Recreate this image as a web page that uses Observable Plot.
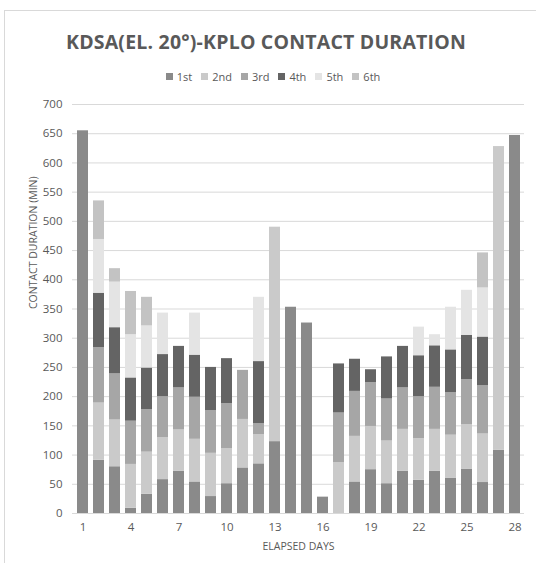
<!DOCTYPE html>
<html>
<head>
<meta charset="utf-8">
<script src="https://cdn.jsdelivr.net/npm/d3@7"></script>
<script src="https://cdn.jsdelivr.net/npm/@observablehq/plot@0.6"></script>
<style>
  html, body { margin: 0; padding: 0; background: #fff; overflow: hidden; }
  body { width: 536px; height: 563px; position: relative; font-family: "Open Sans", sans-serif; color: #595959; }
  #frame { position: absolute; left: 4px; top: 10px; width: 700px; height: 700px; border-left: 1px solid #d9d9d9; border-top: 1px solid #d9d9d9; }
  #title { position: absolute; left: 0; top: 28px; width: 532px; text-align: center; font-size: 19.5px; font-weight: 700; letter-spacing: 0.2px; color: #595959; }
  #legend { position: absolute; left: 0; top: 69px; width: 546px; display: flex; justify-content: center; gap: 9px; font-size: 11px; }
  #legend span.item { display: inline-flex; align-items: center; gap: 4px; }
  #legend span.sw { width: 7px; height: 7px; display: inline-block; }
  #chart { position: absolute; left: 0; top: 92px; }
</style>
</head>
<body>
<div id="frame"></div>
<div id="title">KDSA(EL. 20°)-KPLO CONTACT DURATION</div>
<div id="legend"></div>
<div id="chart"></div>
<script>
// Elapsed days and the duration (minutes) of each contact pass on that day
const days = d3.range(1, 29);
const passes = ["1st", "2nd", "3rd", "4th", "5th", "6th"];
const passColors = ["#8a8a8a", "#cacaca", "#a6a6a6", "#646464", "#e4e4e4", "#c3c3c3"];

const first  = [655, 91, 80,  9, 33, 58, 72, 54, 29, 51, 78, 85, 123, 353, 326, 28,  0, 54, 75, 51, 72, 57, 72, 60, 76, 53, 108, 647];
const second = [  0, 98, 80, 75, 72, 72, 71, 73, 74, 60, 83, 50, 367,   0,   0,  0, 87, 78, 74, 73, 72, 71, 72, 74, 76, 83, 520,   0];
const third  = [  0, 95, 79, 74, 73, 70, 72, 72, 73, 77, 84, 19,   0,   0,   0,  0, 85, 77, 75, 72, 71, 72, 72, 73, 77, 83,   0,   0];
const fourth = [  0, 93, 79, 74, 71, 72, 71, 72, 74, 77,  0,106,   0,   0,   0,  0, 84, 55, 22, 72, 71, 70, 71, 73, 76, 83,   0,   0];
const fifth  = [  0, 92, 78, 74, 72, 71,  0, 72,  0,  0,  0,110,   0,   0,   0,  0,  0,  0,  0,  0,  0, 49, 19, 73, 77, 84,   0,   0];
const sixth  = [  0, 66, 23, 74, 49,  0,  0,  0,  0,  0,  0,  0,   0,   0,   0,  0,  0,  0,  0,  0,  0,  0,  0,  0,  0, 60,   0,   0];

const yTicks = d3.range(0, 701, 50);
const xTicks = [1, 4, 7, 10, 13, 16, 19, 22, 25, 28];

const series = [first, second, third, fourth, fifth, sixth];
const rows = [];
series.forEach((vals, k) => {
  vals.forEach((v, i) => rows.push({day: days[i], pass: passes[k], value: v}));
});

// Legend
const legend = document.getElementById("legend");
passes.forEach((p, k) => {
  const item = document.createElement("span");
  item.className = "item";
  item.innerHTML = `<span class="sw" style="background:${passColors[k]}"></span>${p}`;
  legend.appendChild(item);
});

const chart = Plot.plot({
  width: 536,
  height: 460,
  marginLeft: 72,
  marginRight: 12,
  marginTop: 12,
  marginBottom: 39,
  style: {fontFamily: "Open Sans, sans-serif", fontSize: "11.5px", color: "#595959", background: "transparent"},
  x: {type: "band", domain: days, paddingInner: 0.32, paddingOuter: 0.16},
  y: {domain: [0, 700]},
  color: {domain: passes, range: passColors},
  marks: [
    Plot.gridY(yTicks, {stroke: "#d9d9d9", strokeOpacity: 1}),
    Plot.barY(rows, {x: "day", y: "value", fill: "pass", order: passes}),
    Plot.ruleY([0], {stroke: "#d9d9d9", strokeWidth: 1}),
    Plot.axisY(yTicks, {tickSize: 0, tickPadding: 10, label: null, fill: "#595959"}),
    Plot.axisX(xTicks, {tickSize: 0, tickPadding: 9, label: null, fill: "#595959"}),
    Plot.text(["CONTACT DURATION (MIN)"], {frameAnchor: "left", dx: -39, rotate: -90, fill: "#595959", fontSize: 10.5}),
    Plot.text(["ELAPSED DAYS"], {frameAnchor: "bottom", dy: 36, fill: "#595959", fontSize: 10.5})
  ]
});
document.getElementById("chart").appendChild(chart);
</script>
</body>
</html>
